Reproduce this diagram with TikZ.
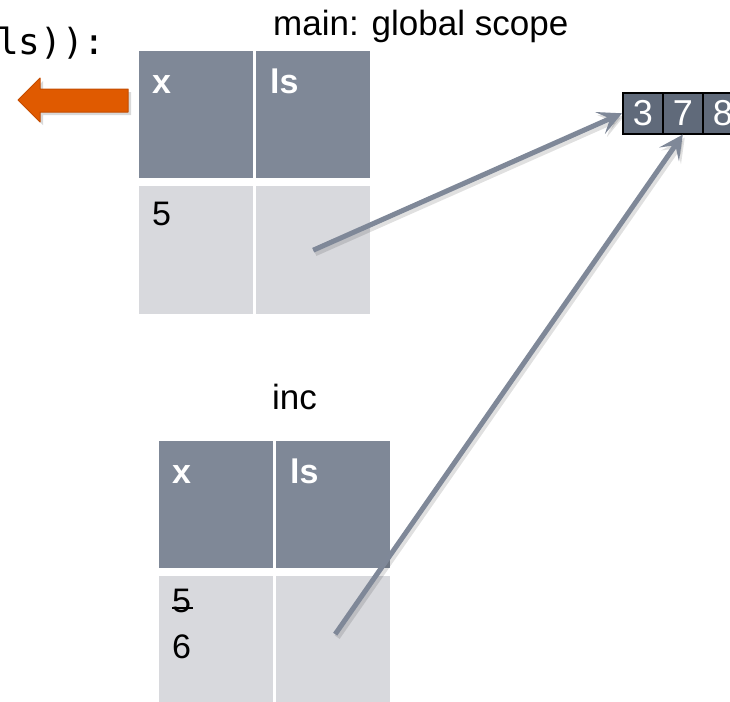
\documentclass[tikz,border=0pt]{standalone}
\usepackage{fontspec}
\setmainfont{Liberation Sans}
\newfontfamily\codefont{DejaVu Sans Mono}
\usetikzlibrary{arrows.meta,calc}

\definecolor{hdrgray}{RGB}{127,136,151}
\definecolor{bodygray}{RGB}{216,217,221}
\definecolor{linkgray}{RGB}{127,136,152}
\definecolor{cellslate}{RGB}{96,106,122}
\definecolor{arroworange}{RGB}{224,90,0}
\definecolor{arrowedge}{RGB}{196,76,0}

\tikzset{
  hdrcell/.style={fill=hdrgray, draw=none, inner sep=0pt, anchor=north west,
    minimum width=114pt, minimum height=127pt},
  bodycell/.style={fill=bodygray, draw=none, inner sep=0pt, anchor=north west,
    minimum width=114pt, minimum height=128pt},
  hdrtext/.style={anchor=base west, inner sep=0pt, text=white,
    font=\fontsize{34}{40}\selectfont\bfseries},
  celltext/.style={anchor=base west, inner sep=0pt, text=black,
    font=\fontsize{34}{40}\selectfont},
  titletext/.style={anchor=base west, inner sep=0pt, text=black,
    font=\fontsize{35}{42}\selectfont},
  arrcell/.style={draw=black, line width=1.6pt, fill=cellslate, inner sep=0pt,
    anchor=north west, minimum width=40pt, minimum height=41pt,
    text=white, font=\fontsize{36}{40}\selectfont},
  link/.style={draw=linkgray, line width=5pt,
    -{Stealth[length=24pt,width=24pt,inset=11pt]}},
  linkshadow/.style={draw=black, opacity=0.12, line width=6pt,
    -{Stealth[length=24pt,width=24pt,inset=11pt]}},
}

\begin{document}
\begin{tikzpicture}[x=1pt,y=-1pt]
\useasboundingbox (0,0) rectangle (730,701);

% code fragment at the upper left
\node[anchor=base west, inner sep=0pt, font=\codefont\fontsize{36}{40}\selectfont]
  (code) at (-3,55) {ls)):};

% orange pointer arrow
\fill[black, opacity=0.15]
  (21,103) -- (43,81) -- (43,92) -- (131,92) -- (131,115) -- (43,115) -- (43,125) -- cycle;
\filldraw[fill=arroworange, draw=arrowedge, line width=1pt, line join=round]
  (18,100) -- (40,78) -- (40,89) -- (128,89) -- (128,112) -- (40,112) -- (40,122) -- cycle;

% frame: main
\node[titletext] (maintitle) at (273,36) {main: global scope};
\node[hdrcell] (mhx) at (139,51) {};
\node[hdrcell] (mhls) at (256,51) {};
\node[bodycell] (mbx) at (139,186) {};
\node[bodycell] (mbls) at (256,186) {};
\node[hdrtext] (mhxt) at ($(mhx.north west)+(13,42)$) {x};
\node[hdrtext] (mhlst) at ($(mhls.north west)+(14,42)$) {ls};
\node[celltext] (mbxt) at ($(mbx.north west)+(13,39)$) {5};

% frame: inc
\node[titletext] (inctitle) at (272,409) {inc};
\node[hdrcell] (ihx) at (159,441) {};
\node[hdrcell] (ihls) at (276,441) {};
\node[bodycell] (ibx) at (159,576) {};
\node[bodycell] (ibls) at (276,576) {};
\node[hdrtext] (ihxt) at ($(ihx.north west)+(13,42)$) {x};
\node[hdrtext] (ihlst) at ($(ihls.north west)+(14,42)$) {ls};
\node[celltext] (ibxold) at ($(ibx.north west)+(13,36)$) {5};
\draw[black, line width=1.6pt] ($(ibxold.base west)+(0,-4)$) -- ($(ibxold.base east)+(2,-4)$);
\node[celltext] (ibxnew) at ($(ibx.north west)+(13,82)$) {6};

% the list object
\node[arrcell] (a1) at (622,92) {3};
\node[arrcell] (a2) at (662,92) {7};
\node[arrcell] (a3) at (702,92) {8};

% references to the list
\coordinate (mref) at (mbls.center);
\coordinate (iref) at ($(ibls.center)+(2,-6)$);
\draw[linkshadow] ($(mref)+(2,3)$) -- ($(a1.west)+(2,3)$);
\draw[linkshadow] ($(iref)+(2,3)$) -- ($(a2.south)+(2,3)$);
\draw[link] (mref) -- (a1.west);
\draw[link] (iref) -- (a2.south);
\end{tikzpicture}
\end{document}
